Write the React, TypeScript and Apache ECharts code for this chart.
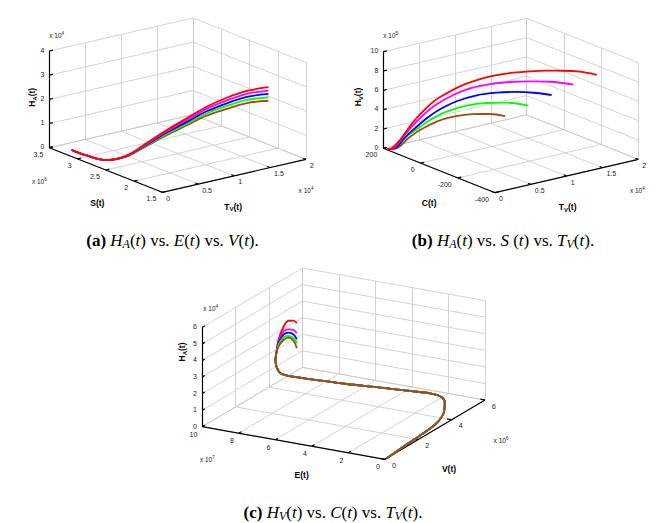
import React, { useEffect, useRef } from "react";
import * as echarts from "echarts";

// ---------------- Panel (a): H_A(t) vs S(t) vs T_V(t) ----------------
const aSTicks = [3.5, 3, 2.5, 2, 1.5]; // S(t)  x 10^6
const aTTicks = [0, 0.5, 1, 1.5, 2]; // T_V(t) x 10^4
const aHTicks = [0, 1, 2, 3, 4]; // H_A(t) x 10^4
const aS = [3.13, 2.88, 2.55, 2.3, 2.15, 2.07, 2.02, 2.0, 2.0, 2.0, 2.0];
const aT = [0.02, 0.03, 0.05, 0.13, 0.29, 0.51, 0.75, 1.01, 1.29, 1.57, 1.87];
const aHBrown = [0.24, 0.23, 0.33, 0.65, 1.11, 1.49, 1.78, 2.02, 2.11, 2.16, 2.05];
const aHGreen = [0.24, 0.23, 0.33, 0.66, 1.14, 1.54, 1.85, 2.11, 2.23, 2.29, 2.19];
const aHBlue = [0.24, 0.23, 0.33, 0.67, 1.17, 1.6, 1.92, 2.2, 2.34, 2.41, 2.33];
const aHMagenta = [0.24, 0.23, 0.33, 0.68, 1.2, 1.65, 2.0, 2.3, 2.46, 2.54, 2.47];
const aHRed = [0.24, 0.23, 0.33, 0.69, 1.23, 1.7, 2.07, 2.39, 2.57, 2.66, 2.61];

// ---------------- Panel (b): H_V(t) vs C(t) vs T_V(t) ----------------
const bCTicks = [200, 0, -200, -400]; // C(t)
const bTTicks = [0, 0.5, 1, 1.5, 2]; // T_V(t) x 10^4
const bHTicks = [0, 2, 4, 6, 8, 10]; // H_V(t) x 10^5
const bCBrown = [180, 160, 135, 110, 75, 40, -3, -38, -70];
const bTBrown = [0, 0.082, 0.18, 0.279, 0.42, 0.561, 0.73, 0.871, 0.998];
const bHBrown = [0.05, 0.17, 1.22, 2.1, 2.99, 3.53, 3.84, 3.87, 3.68];
const bCGreen = [180, 163, 138, 114, 89, 54, 12, -31, -73, -119];
const bTGreen = [0, 0.068, 0.167, 0.265, 0.364, 0.505, 0.674, 0.843, 1.013, 1.195];
const bHGreen = [0.05, 0.17, 1.39, 2.27, 3.15, 4.04, 4.69, 5.0, 5.06, 4.79];
const bCBlue = [180, 163, 142, 121, 96, 68, 33, -10, -52, -94, -130, -168];
const bTBlue = [0, 0.068, 0.152, 0.237, 0.336, 0.448, 0.59, 0.759, 0.928, 1.097, 1.238, 1.393];
const bHBlue = [0.05, 0.17, 1.32, 2.27, 3.32, 4.27, 5.13, 5.78, 6.08, 6.19, 6.14, 5.93];
const bCMagenta = [180, 167, 146, 124, 103, 75, 40, 5, -38, -80, -123, -165, -214];
const bTMagenta = [0, 0.053, 0.138, 0.223, 0.307, 0.42, 0.561, 0.702, 0.871, 1.041, 1.21, 1.379, 1.576];
const bHMagenta = [0.05, 0.16, 1.38, 2.61, 3.66, 4.78, 5.78, 6.49, 6.97, 7.21, 7.31, 7.3, 7.03];
const bCRed = [180, 170, 153, 138, 124, 107, 82, 54, 19, -17, -52, -87, -123, -158, -193, -228, -264];
const bTRed = [0, 0.04, 0.11, 0.167, 0.223, 0.294, 0.392, 0.505, 0.646, 0.787, 0.928, 1.069, 1.21, 1.351, 1.492, 1.633, 1.774];
const bHRed = [0.05, 0.16, 1.03, 2.01, 2.95, 3.89, 5.05, 5.94, 6.83, 7.47, 7.91, 8.18, 8.35, 8.44, 8.46, 8.39, 8.1];

// ---------------- Panel (c): H_A(t) vs E(t) vs V(t) ----------------
const cETicks = [10, 8, 6, 4, 2, 0]; // E(t) x 10^7
const cVTicks = [0, 2, 4, 6]; // V(t) x 10^6
const cHTicks = [0, 1, 2, 3, 4, 5, 6]; // H_A(t) x 10^4
const cE = [0, 0, 0, 0, 0.05, 0.15, 0.4, 1.1, 2.3, 3.85, 5.4, 6.95, 8.15, 8.8, 9.0, 9.05, 9.05, 8.95, 8.7, 8.45, 8.18, 8.0];
const cV = [0.1, 1.1, 2.3, 3.1, 3.6, 3.75, 3.8, 3.9, 3.82, 3.71, 3.61, 3.5, 3.42, 3.38, 3.36, 3.35, 3.4, 3.42, 3.45, 3.47, 3.48, 3.48];
const cHRed = [0, 0.1, 0.2, 0.33, 0.72, 1.17, 1.43, 1.44, 1.41, 1.38, 1.33, 1.33, 1.34, 1.44, 1.81, 2.21, 2.59, 3.4, 4.23, 4.63, 4.68, 4.56];
const cHMagenta = [0, 0.1, 0.2, 0.33, 0.72, 1.17, 1.43, 1.44, 1.41, 1.38, 1.33, 1.33, 1.34, 1.44, 1.81, 2.21, 2.59, 3.3, 3.95, 4.11, 4.12, 3.96];
const cHBlue = [0, 0.1, 0.2, 0.33, 0.72, 1.17, 1.43, 1.44, 1.41, 1.38, 1.33, 1.33, 1.34, 1.44, 1.81, 2.21, 2.59, 3.2, 3.75, 3.91, 3.85, 3.59];
const cHGreen = [0, 0.1, 0.2, 0.33, 0.72, 1.17, 1.43, 1.44, 1.41, 1.38, 1.33, 1.33, 1.34, 1.44, 1.81, 2.21, 2.59, 3.1, 3.58, 3.71, 3.62, 3.35];
const cHBrown = [0, 0.1, 0.2, 0.33, 0.72, 1.17, 1.43, 1.44, 1.41, 1.38, 1.33, 1.33, 1.34, 1.44, 1.81, 2.21, 2.59, 3.0, 3.43, 3.61, 3.47, 3.05];

const RED = "#ff0000";
const MAGENTA = "#ff00ff";
const BLUE = "#0000ff";
const GREEN = "#00ff00";
const BROWN = "#a34a1c";

type V2 = [number, number];
interface PanelCfg {
  L: V2;
  F: V2;
  R: V2;
  hz: number;
  uT: number[];
  wT: number[];
  zT: number[];
  zLabelOff: V2;
  uLabelOff: V2;
  wLabelOff: V2;
  zExp: string;
  uExp?: string;
  wExp: string;
  zExpOff: V2;
  uExpOff?: V2;
  wExpOff: V2;
  uTitle: string;
  wTitle: string;
  zTitle: string;
  uTitleOff: V2;
  wTitleOff: V2;
  zTitleOff: V2;
}

function proj(p: PanelCfg, u: number, w: number, z: number): V2 {
  const u0 = p.uT[0], u1 = p.uT[p.uT.length - 1];
  const w0 = p.wT[0], w1 = p.wT[p.wT.length - 1];
  const z0 = p.zT[0], z1 = p.zT[p.zT.length - 1];
  const fu = (u - u0) / (u1 - u0);
  const fw = (w - w0) / (w1 - w0);
  const fz = (z - z0) / (z1 - z0);
  return [
    p.L[0] + fu * (p.F[0] - p.L[0]) + fw * (p.R[0] - p.F[0]),
    p.L[1] + fu * (p.F[1] - p.L[1]) + fw * (p.R[1] - p.F[1]) - fz * p.hz,
  ];
}

const SANS = "Liberation Sans, Arial, sans-serif";
const SERIF = "Liberation Serif, Times New Roman, serif";

const titleRich = {
  b: { fontSize: 8.5, fontWeight: "bold", fontFamily: SANS, fill: "#000" },
  s: { fontSize: 6, fontWeight: "bold", fontFamily: SANS, fill: "#000", padding: [5, 0, 0, 0] },
};
const expRich = {
  n: { fontSize: 6.5, fontFamily: SANS, fill: "#222" },
  p: { fontSize: 4.5, fontFamily: SANS, fill: "#222", padding: [0, 0, 4, 0] },
};

function text(x: number, y: number, t: string, align: string, extra: any = {}) {
  return {
    type: "text",
    x,
    y,
    silent: true,
    rotation: extra.rotation || 0,
    style: {
      text: t,
      fontSize: extra.fontSize || 7,
      fontFamily: extra.fontFamily || SANS,
      fontWeight: extra.fontWeight || "normal",
      fill: extra.fill || "#222",
      align,
      textAlign: align,
      verticalAlign: "middle",
      textVerticalAlign: "middle",
      rich: extra.rich,
    },
  };
}

function buildPanel(p: PanelCfg) {
  const u0 = p.uT[0], u1 = p.uT[p.uT.length - 1];
  const w0 = p.wT[0], w1 = p.wT[p.wT.length - 1];
  const z0 = p.zT[0], z1 = p.zT[p.zT.length - 1];
  const grid: any[] = [];
  const axes: any[] = [];
  const seg = (arr: any[], a: V2, b: V2) => arr.push({ coords: [a, b] });
  p.uT.forEach((u) => {
    seg(grid, proj(p, u, w0, z0), proj(p, u, w1, z0));
    seg(grid, proj(p, u, w1, z0), proj(p, u, w1, z1));
  });
  p.wT.forEach((w) => {
    seg(grid, proj(p, u0, w, z0), proj(p, u1, w, z0));
    seg(grid, proj(p, u0, w, z0), proj(p, u0, w, z1));
  });
  p.zT.forEach((z) => {
    seg(grid, proj(p, u0, w0, z), proj(p, u0, w1, z));
    seg(grid, proj(p, u0, w1, z), proj(p, u1, w1, z));
  });
  seg(axes, proj(p, u0, w0, z0), proj(p, u0, w0, z1));
  seg(axes, proj(p, u0, w0, z0), proj(p, u1, w0, z0));
  seg(axes, proj(p, u1, w0, z0), proj(p, u1, w1, z0));
  const tw = 0.025 * (w1 - w0);
  const tu = 0.025 * (u1 - u0);
  p.uT.forEach((u) => seg(axes, proj(p, u, w0, z0), proj(p, u, w0 + tw, z0)));
  p.wT.forEach((w) => seg(axes, proj(p, u1, w, z0), proj(p, u1 - tu, w, z0)));
  p.zT.forEach((z) => seg(axes, proj(p, u0, w0, z), proj(p, u0, w0 + tw, z)));

  const texts: any[] = [];
  p.zT.forEach((z) => {
    const q = proj(p, u0, w0, z);
    texts.push(text(q[0] + p.zLabelOff[0], q[1] + p.zLabelOff[1], String(z), "right"));
  });
  p.uT.forEach((u) => {
    const q = proj(p, u, w0, z0);
    texts.push(text(q[0] + p.uLabelOff[0], q[1] + p.uLabelOff[1], String(u), "right"));
  });
  p.wT.forEach((w) => {
    const q = proj(p, u1, w, z0);
    texts.push(text(q[0] + p.wLabelOff[0], q[1] + p.wLabelOff[1], String(w), "left"));
  });
  const zt = proj(p, u0, w0, z1);
  texts.push(text(zt[0] + p.zExpOff[0], zt[1] + p.zExpOff[1], `{n|x 10}{p|${p.zExp}}`, "left", { rich: expRich }));
  if (p.uExp && p.uExpOff) {
    const q = proj(p, u0, w0, z0);
    texts.push(text(q[0] + p.uExpOff[0], q[1] + p.uExpOff[1], `{n|x 10}{p|${p.uExp}}`, "center", { rich: expRich }));
  }
  const wr = proj(p, u1, w1, z0);
  texts.push(text(wr[0] + p.wExpOff[0], wr[1] + p.wExpOff[1], `{n|x 10}{p|${p.wExp}}`, "center", { rich: expRich }));
  const um = proj(p, (u0 + u1) / 2, w0, z0);
  texts.push(text(um[0] + p.uTitleOff[0], um[1] + p.uTitleOff[1], p.uTitle, "center", { rich: titleRich }));
  const wm = proj(p, u1, (w0 + w1) / 2, z0);
  texts.push(text(wm[0] + p.wTitleOff[0], wm[1] + p.wTitleOff[1], p.wTitle, "center", { rich: titleRich }));
  const zm = proj(p, u0, w0, (z0 + z1) / 2);
  texts.push(
    text(zm[0] + p.zTitleOff[0], zm[1] + p.zTitleOff[1], p.zTitle, "center", { rich: titleRich, rotation: Math.PI / 2 })
  );
  return { grid, axes, texts };
}

const panelA: PanelCfg = {
  L: [49.3, 147.7], F: [162.3, 192.3], R: [306, 159.3], hz: 96.7,
  uT: aSTicks, wT: aTTicks, zT: aHTicks,
  zLabelOff: [-5, -0.8], uLabelOff: [-6, 6.5], wLabelOff: [4, 6],
  zExp: "4", uExp: "6", wExp: "4",
  zExpOff: [0, -16], uExpOff: [-10, 34], wExpOff: [0, 31],
  uTitle: "{b|S(t)}", wTitle: "{b|T}{s|V}{b|(t)}", zTitle: "{b|H}{s|A}{b|(t)}",
  uTitleOff: [-8.5, 33], wTitleOff: [-1, 31], zTitleOff: [-17, -2],
};
const panelB: PanelCfg = {
  L: [383.3, 148.3], F: [495, 192.7], R: [638.3, 159.3], hz: 96.6,
  uT: bCTicks, wT: bTTicks, zT: bHTicks,
  zLabelOff: [-5, -0.8], uLabelOff: [-6, 6.5], wLabelOff: [4, 6],
  zExp: "5", wExp: "4",
  zExpOff: [0, -16], wExpOff: [-1, 31],
  uTitle: "{b|C(t)}", wTitle: "{b|T}{s|V}{b|(t)}", zTitle: "{b|H}{s|V}{b|(t)}",
  uTitleOff: [-10, 32], wTitleOff: [1, 31], zTitleOff: [-25, -3],
};
const panelC: PanelCfg = {
  L: [202.3, 426.7], F: [385, 459.3], R: [485, 400], hz: 99.4,
  uT: cETicks, wT: cVTicks, zT: cHTicks,
  zLabelOff: [-5.5, -0.5], uLabelOff: [-5, 7.5], wLabelOff: [7, 6],
  zExp: "4", uExp: "7", wExp: "6",
  zExpOff: [1, -19], uExpOff: [5, 33], wExpOff: [16, 40],
  uTitle: "{b|E(t)}", wTitle: "{b|V(t)}", zTitle: "{b|H}{s|A}{b|(t)}",
  uTitleOff: [8, 32], wTitleOff: [14, 39], zTitleOff: [-20, -25],
};

function curve(p: PanelCfg, us: number[], ws: number[], zs: number[], color: string) {
  return {
    type: "line",
    data: zs.map((z, i) => proj(p, us[i], ws[i], z)),
    showSymbol: false,
    symbol: "none",
    smooth: 0.35,
    silent: true,
    lineStyle: { color, width: 1.8 },
    z: 5,
  };
}

const captionRich = {
  b: { fontFamily: SERIF, fontSize: 17, fontWeight: "bold", fill: "#000" },
  r: { fontFamily: SERIF, fontSize: 17, fill: "#000" },
  i: { fontFamily: SERIF, fontSize: 17, fontStyle: "italic", fill: "#000" },
  s: { fontFamily: SERIF, fontSize: 12, fontStyle: "italic", fill: "#000", padding: [7, 0, 0, 0] },
};

export default function App() {
  const ref = useRef<HTMLDivElement>(null);
  useEffect(() => {
    document.body.style.margin = "0";
    const chart = echarts.init(ref.current!, undefined, { renderer: "svg" });
    const A = buildPanel(panelA);
    const B = buildPanel(panelB);
    const C = buildPanel(panelC);
    const gridLines = [...A.grid, ...B.grid, ...C.grid];
    const axisLines = [...A.axes, ...B.axes, ...C.axes];
    const captions = [
      text(172.5, 240, "{b|(a)}{r| }{i|H}{s|A}{r|(}{i|t}{r|) vs. }{i|E}{r|(}{i|t}{r|) vs. }{i|V}{r|(}{i|t}{r|).}", "center", { rich: captionRich }),
      text(503, 240, "{b|(b)}{r| }{i|H}{s|A}{r|(}{i|t}{r|) vs. }{i|S}{r| (}{i|t}{r|) vs. }{i|T}{s|V}{r|(}{i|t}{r|).}", "center", { rich: captionRich }),
      text(333, 512, "{b|(c)}{r| }{i|H}{s|V}{r|(}{i|t}{r|) vs. }{i|C}{r|(}{i|t}{r|) vs. }{i|T}{s|V}{r|(}{i|t}{r|).}", "center", { rich: captionRich }),
    ];
    chart.setOption({
      animation: false,
      backgroundColor: "#ffffff",
      grid: { left: 0, right: 0, top: 0, bottom: 0 },
      xAxis: { type: "value", min: 0, max: 671, show: false },
      yAxis: { type: "value", min: 0, max: 523, inverse: true, show: false },
      graphic: [...A.texts, ...B.texts, ...C.texts, ...captions],
      series: [
        {
          type: "lines",
          coordinateSystem: "cartesian2d",
          polyline: false,
          silent: true,
          data: gridLines,
          lineStyle: { color: "#c8c8c8", width: 0.8, opacity: 1 },
          z: 1,
        },
        {
          type: "lines",
          coordinateSystem: "cartesian2d",
          polyline: false,
          silent: true,
          data: axisLines,
          lineStyle: { color: "#000", width: 1.2, opacity: 1 },
          z: 3,
        },
        curve(panelA, aS, aT, aHBrown, BROWN),
        curve(panelA, aS, aT, aHGreen, GREEN),
        curve(panelA, aS, aT, aHBlue, BLUE),
        curve(panelA, aS, aT, aHMagenta, MAGENTA),
        curve(panelA, aS, aT, aHRed, RED),
        curve(panelB, bCBrown, bTBrown, bHBrown, BROWN),
        curve(panelB, bCGreen, bTGreen, bHGreen, GREEN),
        curve(panelB, bCBlue, bTBlue, bHBlue, BLUE),
        curve(panelB, bCMagenta, bTMagenta, bHMagenta, MAGENTA),
        curve(panelB, bCRed, bTRed, bHRed, RED),
        curve(panelC, cE, cV, cHRed, RED),
        curve(panelC, cE, cV, cHMagenta, MAGENTA),
        curve(panelC, cE, cV, cHBlue, BLUE),
        curve(panelC, cE, cV, cHGreen, GREEN),
        curve(panelC, cE, cV, cHBrown, BROWN),
      ],
    });
    return () => chart.dispose();
  }, []);
  return <div ref={ref} style={{ width: 671, height: 523 }} />;
}
